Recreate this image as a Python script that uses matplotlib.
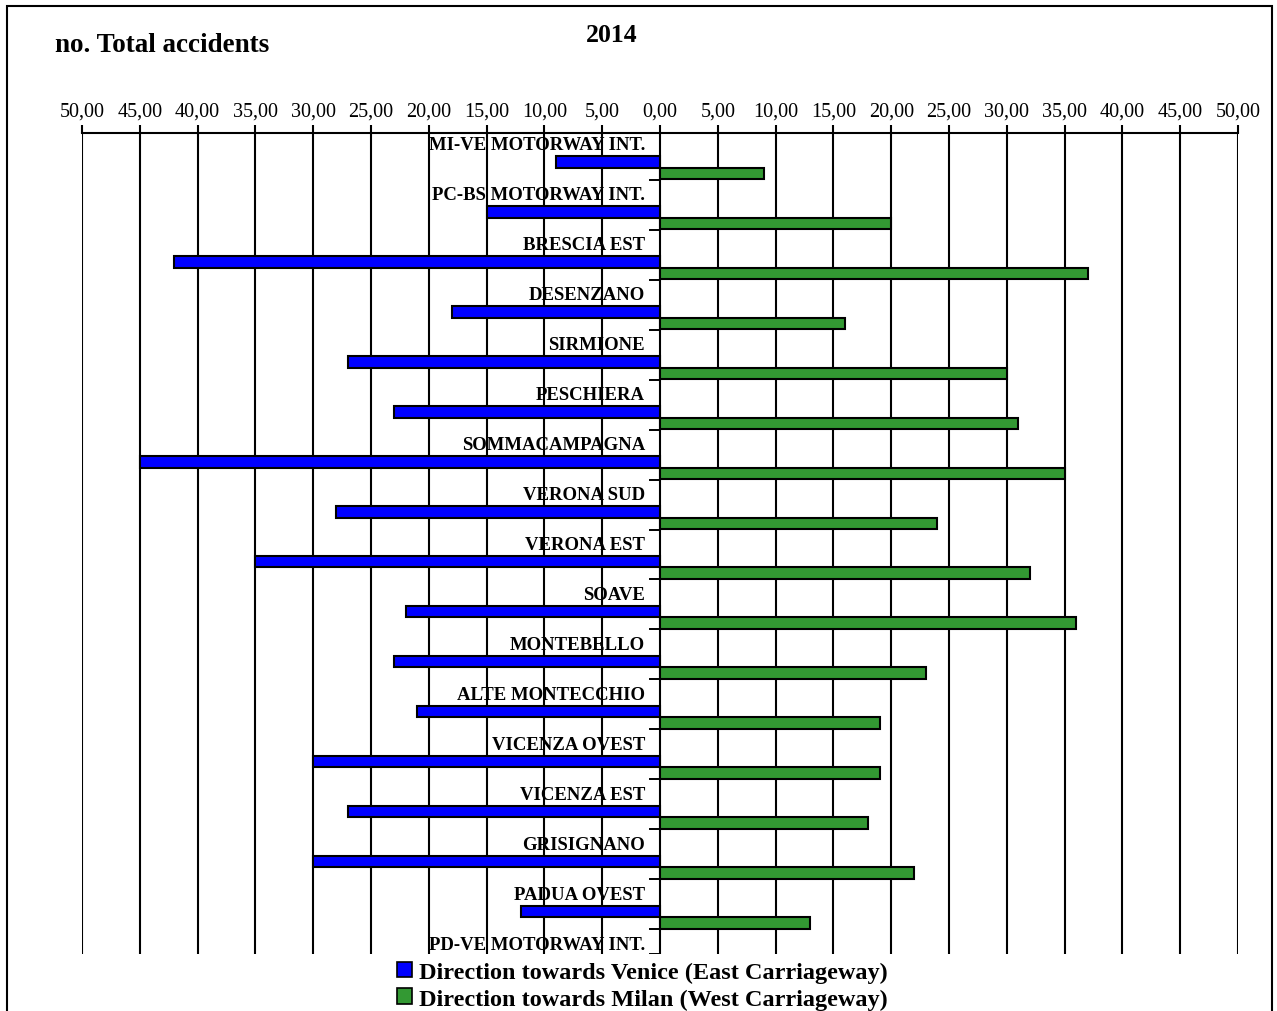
import matplotlib.pyplot as plt
from matplotlib.patches import Patch, Rectangle
from matplotlib.ticker import FuncFormatter

plt.rcParams['font.family'] = ['Liberation Serif', 'DejaVu Serif']

# junctions along the motorway (segment boundaries)
junctions = ['MI-VE MOTORWAY INT.', 'PC-BS MOTORWAY INT.', 'BRESCIA EST', 'DESENZANO',
             'SIRMIONE', 'PESCHIERA', 'SOMMACAMPAGNA', 'VERONA SUD', 'VERONA EST',
             'SOAVE', 'MONTEBELLO', 'ALTE MONTECCHIO', 'VICENZA OVEST', 'VICENZA EST',
             'GRISIGNANO', 'PADUA OVEST', 'PD-VE MOTORWAY INT.']

# accidents per segment, one value per pair of junctions
venice = [9, 15, 42, 18, 27, 23, 45, 28, 35, 22, 23, 21, 30, 27, 30, 12]
milan = [9, 20, 37, 16, 30, 31, 35, 24, 32, 36, 23, 19, 19, 18, 22, 13]

ticks = [-50, -45, -40, -35, -30, -25, -20, -15, -10, -5, 0, 5, 10, 15, 20, 25, 30, 35, 40, 45, 50]

blue = '#0000FF'
green = '#339933'

fig = plt.figure(figsize=(12.77, 10.12), dpi=100)
ax = fig.add_axes([0.0642, 0.0563, 0.9053, 0.8113])

seg = list(range(len(venice)))
ax.barh([s + 0.345 for s in seg], [-v for v in venice], height=0.23,
        color=blue, edgecolor='black', linewidth=1.5, zorder=3)
ax.barh([s + 0.575 for s in seg], milan, height=0.23,
        color=green, edgecolor='black', linewidth=1.5, zorder=3)

# junction names sit just left of the zero line
for i, name in enumerate(junctions):
    ax.text(-1.3, i, name, ha='right', va='center', fontsize=13.5,
            fontweight='bold', zorder=4)

# small category ticks on the zero line
for s in seg:
    ax.plot([-0.9, 0], [s + 0.7, s + 0.7], color='black', lw=1.4, zorder=4)
ax.plot([-0.9, 0], [16.2, 16.2], color='black', lw=1.4, zorder=4)

ax.set_xlim(-50, 50)
ax.set_ylim(16.2, -0.24)
ax.set_xticks(ticks)
ax.xaxis.set_major_formatter(FuncFormatter(lambda v, p: f'{abs(v):.2f}'.replace('.', ',')))
ax.xaxis.tick_top()
ax.tick_params(axis='x', direction='out', length=6, width=1.5, labelsize=14.5, pad=3)
ax.set_yticks([])
ax.grid(axis='x', color='black', lw=1.5, zorder=1)
for side in ['left', 'right', 'bottom']:
    ax.spines[side].set_visible(False)
ax.spines['top'].set_linewidth(1.5)

fig.text(0.479, 0.965, '2014', ha='center', va='center', fontsize=18.5, fontweight='bold')
fig.text(0.043, 0.955, 'no. Total accidents', ha='left', va='center', fontsize=19.5,
         fontweight='bold')

handles = [Patch(facecolor=blue, edgecolor='black', linewidth=1.2),
           Patch(facecolor=green, edgecolor='black', linewidth=1.2)]
fig.legend(handles, ['Direction towards Venice (East Carriageway)',
                     'Direction towards Milan (West Carriageway)'],
           loc='lower center', bbox_to_anchor=(0.503, -0.013), frameon=False,
           prop={'size': 17.5, 'weight': 'bold'}, handlelength=0.6, handleheight=0.6,
           handletextpad=0.3, labelspacing=0.22, borderpad=0.1)

fig.patches.append(Rectangle((0.0055, -0.01), 0.9905, 1.003, transform=fig.transFigure,
                             fill=False, edgecolor='black', lw=1.5))

fig.savefig('out.png', dpi=100)
